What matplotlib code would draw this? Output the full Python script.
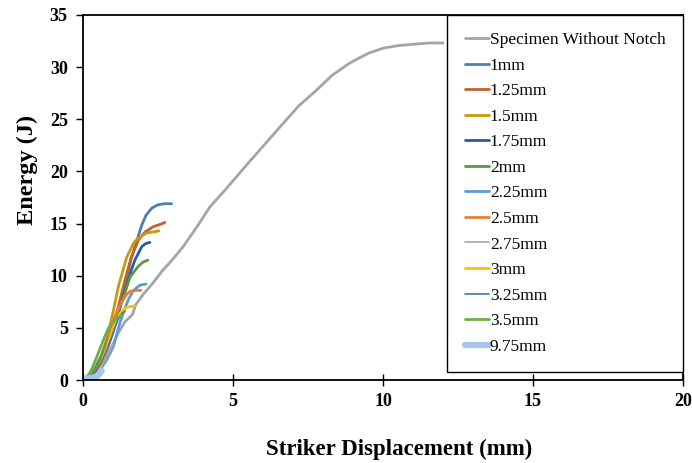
import matplotlib
matplotlib.use("Agg")
import matplotlib.pyplot as plt

plt.rcParams['font.family'] = ['Liberation Serif', 'DejaVu Serif']

# Dane (przemieszczenie mm, energia J)
spec_x = [0, 0.3, 0.6, 0.9, 1.15, 1.4, 1.55, 1.65, 1.75, 2.0, 2.3, 2.65, 3.0, 3.34, 3.8, 4.23,
          4.7, 5.12, 5.6, 6.0, 6.67, 7.2, 7.79, 8.3, 8.9, 9.5, 10.0, 10.5, 11.1, 11.5, 12.0]
spec_y = [0, 0.3, 1.2, 2.8, 4.4, 5.6, 6.0, 6.3, 7.2, 8.2, 9.2, 10.5, 11.6, 12.8, 14.7, 16.6,
          18.1, 19.5, 21.1, 22.4, 24.6, 26.3, 27.8, 29.2, 30.4, 31.3, 31.8, 32.05, 32.2, 32.3, 32.3]

n100_x = [0, 0.2, 0.4, 0.6, 0.8, 1.0, 1.2, 1.4, 1.6, 1.8, 1.95, 2.1, 2.3, 2.5, 2.7, 2.95]
n100_y = [0, 0.2, 0.7, 1.6, 3.0, 4.8, 7.0, 9.3, 11.6, 13.4, 14.8, 15.8, 16.5, 16.8, 16.9, 16.9]

n125_x = [0, 0.2, 0.4, 0.6, 0.8, 1.0, 1.2, 1.4, 1.6, 1.84, 2.07, 2.34, 2.55, 2.73]
n125_y = [0, 0.2, 0.8, 1.8, 3.3, 5.1, 7.3, 9.6, 11.7, 13.4, 14.2, 14.7, 14.9, 15.1]

n150_x = [0, 0.2, 0.4, 0.6, 0.8, 1.0, 1.18, 1.46, 1.7, 1.84, 2.12, 2.35, 2.53]
n150_y = [0, 0.2, 0.9, 2.2, 4.0, 6.5, 9.0, 11.8, 13.2, 13.6, 14.1, 14.2, 14.3]

n175_x = [0, 0.2, 0.4, 0.6, 0.8, 1.0, 1.2, 1.4, 1.6, 1.73, 1.96, 2.1, 2.23]
n175_y = [0, 0.2, 0.7, 1.6, 2.9, 4.6, 6.6, 8.6, 10.5, 11.5, 12.8, 13.1, 13.2]

n200_x = [0, 0.2, 0.4, 0.6, 0.8, 1.0, 1.2, 1.4, 1.57, 1.84, 2.0, 2.16]
n200_y = [0, 0.3, 1.1, 2.3, 3.8, 5.3, 6.8, 8.4, 9.9, 10.9, 11.3, 11.5]

n225_x = [0, 0.2, 0.4, 0.57, 0.8, 1.01, 1.23, 1.4, 1.51, 1.68, 1.9, 2.1]
n225_y = [0, 0.1, 0.4, 1.0, 2.0, 3.2, 5.5, 6.9, 7.7, 8.6, 9.1, 9.2]

n250_x = [0, 0.2, 0.4, 0.6, 0.8, 1.01, 1.15, 1.29, 1.45, 1.57, 1.75, 1.93]
n250_y = [0, 0.2, 0.7, 1.6, 3.3, 5.75, 6.7, 7.5, 8.2, 8.5, 8.6, 8.6]

n275_x = [0, 0.2, 0.4, 0.6, 0.8, 1.0]
n275_y = [0, 0.15, 0.5, 1.2, 2.2, 3.4]

n300_x = [0, 0.2, 0.35, 0.51, 0.65, 0.79, 1.01, 1.23, 1.4, 1.55, 1.71]
n300_y = [0, 0.1, 0.4, 1.0, 1.9, 2.9, 5.0, 6.4, 6.9, 7.05, 7.1]

n325_x = [0, 0.2, 0.4, 0.6, 0.8, 1.0, 1.15, 1.3, 1.4]
n325_y = [0, 0.2, 0.7, 1.6, 2.9, 4.5, 5.7, 6.4, 6.6]

n350_x = [0, 0.1, 0.25, 0.4, 0.55, 0.7, 0.85, 1.0, 1.1, 1.2, 1.3]
n350_y = [0, 0.2, 0.8, 1.8, 2.9, 4.0, 5.0, 5.6, 5.9, 6.1, 6.2]

n975_x = [0, 0.15, 0.3, 0.45, 0.55, 0.62]
n975_y = [0.15, 0.15, 0.2, 0.35, 0.6, 0.9]

labels = ['Specimen Without Notch', '1mm', '1.25mm', '1.5mm', '1.75mm', '2mm', '2.25mm',
          '2.5mm', '2.75mm', '3mm', '3.25mm', '3.5mm', '9.75mm']
xs = [spec_x, n100_x, n125_x, n150_x, n175_x, n200_x, n225_x, n250_x, n275_x, n300_x,
      n325_x, n350_x, n975_x]
ys = [spec_y, n100_y, n125_y, n150_y, n175_y, n200_y, n225_y, n250_y, n275_y, n300_y,
      n325_y, n350_y, n975_y]
colors = ['#a5a5a5', '#4a7fb5', '#c0622a', '#c99a0e', '#2e5aa0', '#5b9a3c', '#5b9bd5',
          '#ed7d31', '#a5a5a5', '#ffc000', '#4472c4', '#70ad47', '#a9c4eb']
widths = [2.0, 2.0, 2.0, 2.0, 2.0, 2.0, 2.0, 2.0, 1.2, 2.0, 1.2, 2.0, 4.5]

fig = plt.figure(figsize=(6.92, 4.63), dpi=100)
ax = fig.add_axes([0.12, 0.179, 0.867, 0.789])

for x, y, c, w, lab in zip(xs, ys, colors, widths, labels):
    ax.plot(x, y, color=c, linewidth=w, label=lab, solid_capstyle='round')

ax.set_xlim(0, 20)
ax.set_ylim(0, 35)
ax.set_xticks([0, 5, 10, 15, 20])
ax.set_yticks([0, 5, 10, 15, 20, 25, 30, 35])

for s in ax.spines.values():
    s.set_color('black')
    s.set_linewidth(1.3)

ax.tick_params(axis='x', direction='inout', length=9, width=1, pad=5)
ax.tick_params(axis='y', direction='out', length=5, width=1, pad=6)
for t in ax.get_xticklabels() + ax.get_yticklabels():
    t.set_fontweight('bold')
    t.set_fontsize(13)

ax.set_xlabel('Striker Displacement (mm)', fontsize=16.5, fontweight='bold')
ax.xaxis.set_label_coords(0.527, -0.162)
ax.set_ylabel('Energy (J)', fontsize=17.5, fontweight='bold')
ax.yaxis.set_label_coords(-0.075, 0.575)

leg = ax.legend(loc='upper right', bbox_to_anchor=(1, 1), borderaxespad=0,
                fontsize=12.5, frameon=True, fancybox=False, edgecolor='black',
                framealpha=1, handlelength=1.4, handletextpad=0.05, labelspacing=0.54,
                borderpad=1.0)
leg.get_frame().set_linewidth(1.0)

fig.savefig('out.png', dpi=100)
